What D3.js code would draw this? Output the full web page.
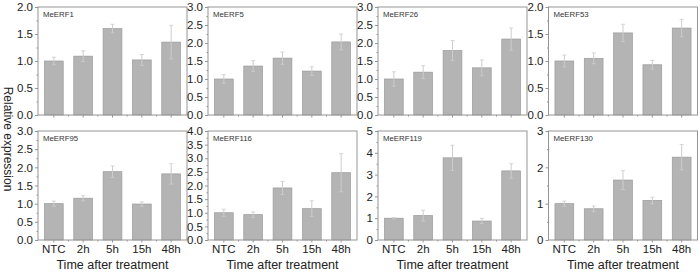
<!DOCTYPE html>
<html>
<head>
<meta charset="utf-8">
<script src="https://cdn.jsdelivr.net/npm/d3@7"></script>
<style>
  body { margin: 0; background: #fff; }
  svg { display: block; font-family: "Liberation Sans", Arial, sans-serif; }
</style>
</head>
<body>
<div id="chart"></div>
<script>
const categories = ["NTC", "2h", "5h", "15h", "48h"]

const genes = ["MeERF1", "MeERF5", "MeERF26", "MeERF53",
               "MeERF95", "MeERF116", "MeERF119", "MeERF130"]

// y axis max and tick step per panel
const yMax = [2.0, 3.0, 3.0, 2.0, 3.0, 4.0, 5, 3]
const yStep = [0.5, 0.5, 0.5, 0.5, 0.5, 0.5, 1, 1]

const means = [
  [1.0, 1.09, 1.6, 1.02, 1.35],
  [1.0, 1.36, 1.58, 1.22, 2.03],
  [1.0, 1.19, 1.79, 1.31, 2.11],
  [1.0, 1.05, 1.52, 0.93, 1.61],
  [1.0, 1.15, 1.88, 0.99, 1.82],
  [1.0, 0.93, 1.91, 1.15, 2.47],
  [1.0, 1.12, 3.77, 0.87, 3.17],
  [1.0, 0.86, 1.65, 1.09, 2.28],
]

const errors = [
  [0.07, 0.1, 0.08, 0.1, 0.31],
  [0.12, 0.15, 0.17, 0.12, 0.22],
  [0.2, 0.18, 0.28, 0.22, 0.31],
  [0.11, 0.1, 0.16, 0.08, 0.16],
  [0.07, 0.07, 0.16, 0.06, 0.28],
  [0.13, 0.1, 0.24, 0.29, 0.7],
  [0.03, 0.25, 0.58, 0.12, 0.33],
  [0.07, 0.08, 0.26, 0.09, 0.35],
]

const WIDTH = 700
const HEIGHT = 273
const PANEL_LEFT = [38, 208, 378, 548.5]
const PANEL_W = 149
const ROWS = [{ top: 7, bottom: 115 }, { top: 131, bottom: 240 }]

const FRAME = "#959595"
const BAR_FILL = "#b4b4b4"
const BAR_STROKE = "#9a9a9a"
const ERR = "#cdcdcd"

const svg = d3.select("#chart")
              .append("svg")
              .attr("width", WIDTH)
              .attr("height", HEIGHT)

genes.forEach((name, i) => drawPanel(i))

// y title
svg.append("text")
   .attr("transform", "translate(4,139)rotate(90)")
   .attr("text-anchor", "middle")
   .style("font-size", "12px")
   .attr("fill", "#222")
   .text("Relative expression")

function drawPanel(i) {
  const row = ROWS[Math.floor(i / 4)]
  const left = PANEL_LEFT[i % 4]
  const isBottom = i >= 4

  const x = d3.scaleBand()
              .domain(categories)
              .range([left, left + PANEL_W])
              .paddingInner(0.36)
              .paddingOuter(0.22)

  const y = d3.scaleLinear()
              .domain([0, yMax[i]])
              .range([row.bottom, row.top])

  const g = svg.append("g")
  const data = categories.map((c, k) => ({ cat: c, v: means[i][k], e: errors[i][k] }))

  // bars
  g.selectAll("rect.bar")
   .data(data)
   .enter()
   .append("rect")
   .attr("x", d => x(d.cat))
   .attr("y", d => y(d.v))
   .attr("width", x.bandwidth())
   .attr("height", d => y(0) - y(d.v))
   .attr("fill", BAR_FILL)
   .attr("stroke", BAR_STROKE)
   .attr("stroke-width", 0.7)

  // error bars
  const cx = d => x(d.cat) + x.bandwidth() / 2
  g.selectAll("line.err")
   .data(data)
   .enter()
   .append("line")
   .attr("x1", cx).attr("x2", cx)
   .attr("y1", d => y(d.v - d.e))
   .attr("y2", d => y(d.v + d.e))
   .attr("stroke", ERR)
   .attr("stroke-width", 1)
  g.selectAll("line.cap")
   .data(data.flatMap(d => [{ d, v: d.v + d.e }, { d, v: d.v - d.e }]))
   .enter()
   .append("line")
   .attr("x1", o => cx(o.d) - 2).attr("x2", o => cx(o.d) + 2)
   .attr("y1", o => y(o.v)).attr("y2", o => y(o.v))
   .attr("stroke", ERR)
   .attr("stroke-width", 0.8)

  // y axis
  const ticks = d3.range(0, yMax[i] + yStep[i] / 2, yStep[i])
  const minor = d3.range(yStep[i] / 2, yMax[i], yStep[i])
  const fmt = yStep[i] < 1 ? d3.format(".1f") : d3.format("d")
  const yAxis = svg.append("g")
                   .attr("transform", `translate(${left},0)`)
                   .call(d3.axisLeft(y).tickValues(ticks).tickFormat(fmt).tickSize(3).tickPadding(2))
  yAxis.select(".domain").remove()
  yAxis.selectAll("line").attr("stroke", FRAME)
  yAxis.selectAll("text")
       .style("font-size", "11.5px")
       .style("font-family", "Liberation Sans, Arial, sans-serif")
       .attr("fill", "#222")
  const yMinor = svg.append("g")
                    .attr("transform", `translate(${left},0)`)
                    .call(d3.axisLeft(y).tickValues(minor).tickFormat("").tickSize(1.5))
  yMinor.select(".domain").remove()
  yMinor.selectAll("line").attr("stroke", FRAME)

  // x axis
  const xAxis = svg.append("g")
                   .attr("transform", `translate(0,${row.bottom})`)
                   .call(d3.axisBottom(x).tickSize(2.5).tickPadding(2)
                           .tickFormat(isBottom ? d => d : ""))
  xAxis.select(".domain").remove()
  xAxis.selectAll("line").attr("stroke", FRAME)
  xAxis.selectAll("text")
       .style("font-size", "11.5px")
       .style("font-family", "Liberation Sans, Arial, sans-serif")
       .attr("fill", "#222")
  const mids = categories.slice(1).map((c, k) => (x(categories[k]) + x(c)) / 2 + x.bandwidth() / 2)
  svg.append("g")
     .selectAll("line")
     .data(mids)
     .enter()
     .append("line")
     .attr("x1", d => d).attr("x2", d => d)
     .attr("y1", row.bottom).attr("y2", row.bottom + 1.5)
     .attr("stroke", FRAME)

  // frame
  svg.append("rect")
     .attr("x", left)
     .attr("y", row.top)
     .attr("width", PANEL_W)
     .attr("height", row.bottom - row.top)
     .attr("fill", "none")
     .attr("stroke", FRAME)
     .attr("stroke-width", 1)

  // gene label
  svg.append("text")
     .attr("x", left + 5)
     .attr("y", row.top + 10)
     .style("font-size", "7.8px")
     .attr("fill", "#333")
     .text(genes[i])

  if (isBottom) {
    svg.append("text")
       .attr("x", left + PANEL_W / 2)
       .attr("y", 269)
       .attr("text-anchor", "middle")
       .style("font-size", "12.5px")
       .attr("fill", "#222")
       .text("Time after treatment")
  }
}
</script>
</body>
</html>
